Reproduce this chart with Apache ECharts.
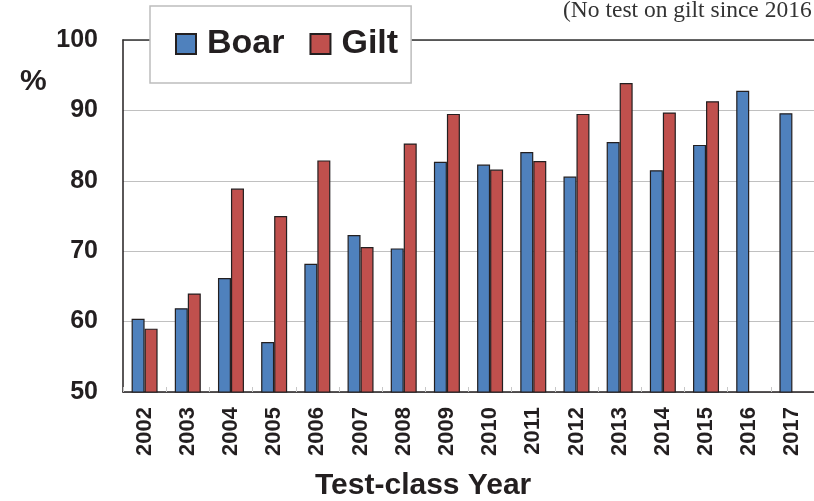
<!DOCTYPE html>
<html>
<head>
<meta charset="utf-8">
<script src="https://cdn.jsdelivr.net/npm/echarts@6/dist/echarts.min.js"></script>
<style>
  html, body { margin: 0; padding: 0; background: #fff; }
  #chart { width: 814px; height: 501px; }
</style>
</head>
<body>
<div id="chart"></div>
<script>
// test-class years
const years = ['2002', '2003', '2004', '2005', '2006', '2007', '2008', '2009',
  '2010', '2011', '2012', '2013', '2014', '2015', '2016', '2017'];
// percent
const boar = [60.4, 61.9, 66.2, 57.1, 68.2, 72.3, 70.4, 82.7,
  82.3, 84.1, 80.6, 85.5, 81.5, 85.1, 92.8, 89.6];
const gilt = [59.0, 64.0, 78.9, 75.0, 82.9, 70.6, 85.3, 89.5,
  81.6, 82.8, 89.5, 93.9, 89.7, 91.3, null, null];
const yTicks = [50, 100, 10]; // min, max, step

const font = '"Liberation Sans", Arial, sans-serif';
const ink = '#231f20';

const chart = echarts.init(document.getElementById('chart'));
chart.setOption({
  animation: false,
  backgroundColor: '#fff',
  grid: { left: 123, right: 0, top: 40, bottom: 109 },
  legend: {
    left: 150, top: 6,
    padding: [21, 13, 22, 25],
    borderColor: '#bdbdbd', borderWidth: 1.5,
    backgroundColor: '#fff',
    icon: 'rect',
    itemWidth: 20, itemHeight: 20, itemGap: 25,
    z: 10,
    textStyle: { fontFamily: font, fontWeight: 'bold', fontSize: 34, color: ink, lineHeight: 32, padding: [0, 0, 0, 6] },
    data: ['Boar', 'Gilt']
  },
  xAxis: [{
    type: 'category',
    data: years,
    axisLine: { lineStyle: { color: ink, width: 1.5 } },
    axisTick: { show: true, inside: true, length: 5, lineStyle: { color: '#c8c8c8' } },
    axisLabel: { rotate: 90, margin: 15, fontFamily: font, fontWeight: 'bold', fontSize: 22, color: ink }
  }, {
    type: 'category',
    position: 'top',
    data: years,
    axisLine: { lineStyle: { color: '#333', width: 1.5 } },
    axisTick: { show: false },
    axisLabel: { show: false }
  }],
  yAxis: {
    type: 'value',
    min: yTicks[0], max: yTicks[1], interval: yTicks[2],
    axisLine: { show: true, lineStyle: { color: ink, width: 1.5 } },
    axisTick: { show: false },
    splitLine: { lineStyle: { color: '#c0c0c0', width: 1.2 } },
    axisLabel: { margin: 25, fontFamily: font, fontWeight: 'bold', fontSize: 25, color: ink }
  },
  series: [{
    name: 'Boar', type: 'bar', data: boar,
    barWidth: 13, barGap: '0%',
    itemStyle: { color: '#4f81bd', borderColor: ink, borderWidth: 1.2 }
  }, {
    name: 'Gilt', type: 'bar', data: gilt,
    barWidth: 13,
    itemStyle: { color: '#c0504d', borderColor: ink, borderWidth: 1.2 }
  }],
  graphic: [{
    type: 'text', left: 20, top: 67,
    style: { text: '%', font: 'bold 30px ' + font, fill: ink }
  }, {
    type: 'text', left: 315, top: 471,
    style: { text: 'Test-class Year', font: 'bold 30px ' + font, fill: ink }
  }, {
    type: 'text', left: 563, top: -1,
    style: { text: '(No test on gilt since 2016', font: '23.5px "Liberation Serif", "Times New Roman", serif', fill: '#333' }
  }]
});
</script>
</body>
</html>
